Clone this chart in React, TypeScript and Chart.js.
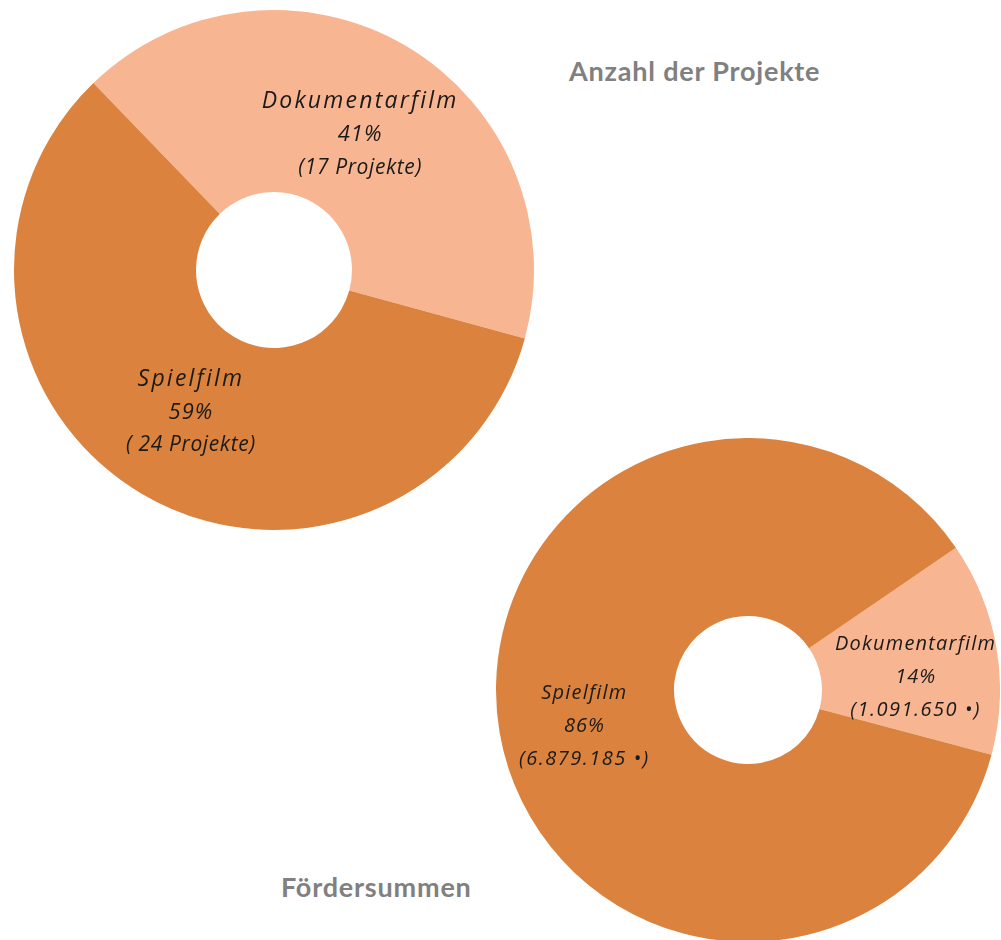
import React, { useEffect, useRef } from "react";
import { Chart, registerables } from "chart.js";

Chart.register(...registerables);

const categories = ["Dokumentarfilm", "Spielfilm"];
const projectCounts = [17, 24];
const projectPercents = ["41%", "59%"];
const projectNotes = ["(17 Projekte)", "( 24 Projekte)"];
const fundingSums = [1091650, 6879185];
const fundingPercents = ["14%", "86%"];
const fundingNotes = ["(1.091.650 •)", "(6.879.185 •)"];
const sliceColors = ["#F8B591", "#DB833E"];
const titles = ["Anzahl der Projekte", "Fördersummen"];

type LabelCfg = {
  lines: string[][];
  fonts: string[];
  spacings: string[];
  lineH: number;
  dx: number[];
  dy: number[];
};

const labelPlugin = {
  id: "sliceLabels",
  afterDatasetsDraw(chart: any) {
    const cfg: LabelCfg = chart.options.plugins.sliceLabels;
    if (!cfg) return;
    const ctx = chart.ctx;
    const meta = chart.getDatasetMeta(0);
    meta.data.forEach((arc: any, i: number) => {
      const p = arc.tooltipPosition();
      const x = p.x + cfg.dx[i];
      const y = p.y + cfg.dy[i];
      ctx.save();
      ctx.fillStyle = "#1a1a1a";
      ctx.textAlign = "center";
      ctx.textBaseline = "middle";
      cfg.lines[i].forEach((t, k) => {
        ctx.font = cfg.fonts[k];
        (ctx as any).letterSpacing = cfg.spacings[k];
        ctx.fillText(t, x, y + (k - 1) * cfg.lineH);
      });
      ctx.restore();
    });
  },
};

function Donut(props: {
  values: number[];
  rotation: number;
  cutout: number;
  size: number;
  left: number;
  top: number;
  labels: LabelCfg;
}) {
  const ref = useRef<HTMLCanvasElement>(null);
  useEffect(() => {
    const chart = new Chart(ref.current!, {
      type: "doughnut",
      data: {
        labels: categories,
        datasets: [
          {
            data: props.values,
            backgroundColor: sliceColors,
            borderWidth: 0,
          },
        ],
      },
      options: {
        responsive: false,
        animation: false,
        rotation: props.rotation,
        cutout: props.cutout,
        layout: { padding: 0 },
        plugins: {
          legend: { display: false },
          tooltip: { enabled: false },
          sliceLabels: props.labels,
        } as any,
      },
      plugins: [labelPlugin],
    });
    return () => chart.destroy();
  }, []);
  return (
    <canvas
      ref={ref}
      width={props.size}
      height={props.size}
      style={{ position: "absolute", left: props.left, top: props.top, width: props.size, height: props.size }}
    />
  );
}

const titleStyle: React.CSSProperties = {
  position: "absolute",
  fontFamily: "Lato, 'Open Sans', sans-serif",
  fontWeight: 700,
  fontSize: 27,
  letterSpacing: "0.8px",
  color: "#808080",
  whiteSpace: "nowrap",
  lineHeight: "30px",
};

export default function App() {
  return (
    <div
      style={{
        position: "fixed",
        left: 0,
        top: 0,
        width: 1001,
        height: 940,
        overflow: "hidden",
        background: "#fff",
      }}
    >
      <Donut
        values={projectCounts}
        rotation={-44}
        cutout={78}
        size={520}
        left={14}
        top={10}
        labels={{
          lines: categories.map((c, i) => [c, projectPercents[i], projectNotes[i]]),
          fonts: ["italic 23px 'Open Sans'", "italic 22px 'Open Sans'", "italic 21px 'Open Sans'"],
          spacings: ["2.2px", "1px", "0.6px"],
          lineH: 33,
          dx: [0, 3],
          dy: [10, -3],
        }}
      />
      <Donut
        values={fundingSums}
        rotation={55.6}
        cutout={74}
        size={504}
        left={496}
        top={438}
        labels={{
          lines: categories.map((c, i) => [c, fundingPercents[i], fundingNotes[i]]),
          fonts: ["italic 20px 'Open Sans'", "italic 20px 'Open Sans'", "italic 20px 'Open Sans'"],
          spacings: ["1.2px", "1px", "1.5px"],
          lineH: 33,
          dx: [7, -3],
          dy: [15, 9],
        }}
      />
      <div style={{ ...titleStyle, left: 569, top: 56 }}>{titles[0]}</div>
      <div style={{ ...titleStyle, left: 281, top: 872 }}>{titles[1]}</div>
    </div>
  );
}
